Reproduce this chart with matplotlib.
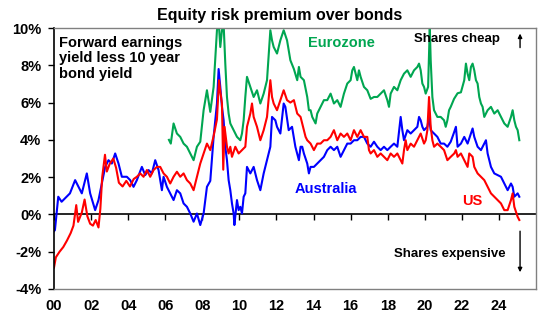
import matplotlib
matplotlib.use("Agg")
import matplotlib.pyplot as plt

plt.rcParams["font.family"] = ["Liberation Sans", "DejaVu Sans"]
plt.rcParams["font.weight"] = "bold"

# ------------ Data --------------------------------------
us_years = [2000.00, 2000.10, 2000.30, 2000.50, 2000.70, 2000.90, 2001.05, 2001.20, 2001.30, 2001.50,
            2001.65, 2001.80, 2001.95, 2002.10, 2002.25, 2002.40, 2002.50, 2002.60, 2002.75, 2002.85,
            2003.00, 2003.20, 2003.35, 2003.50, 2003.70, 2003.90, 2004.10, 2004.30, 2004.47, 2004.65,
            2004.83, 2005.01, 2005.19, 2005.37, 2005.55, 2005.73, 2005.91, 2006.09, 2006.27, 2006.45,
            2006.63, 2006.81, 2006.99, 2007.17, 2007.35, 2007.53, 2007.71, 2007.89, 2008.07, 2008.25,
            2008.43, 2008.61, 2008.79, 2008.90, 2008.97, 2009.06, 2009.13, 2009.20, 2009.33, 2009.42,
            2009.51, 2009.60, 2009.78, 2009.96, 2010.14, 2010.32, 2010.41, 2010.59, 2010.68, 2010.77,
            2010.95, 2011.13, 2011.31, 2011.49, 2011.67, 2011.76, 2011.85, 2012.03, 2012.21, 2012.39,
            2012.57, 2012.75, 2012.94, 2013.12, 2013.30, 2013.48, 2013.57, 2013.66, 2013.84, 2014.02,
            2014.20, 2014.38, 2014.56, 2014.74, 2014.92, 2015.10, 2015.28, 2015.46, 2015.64, 2015.82,
            2016.00, 2016.18, 2016.36, 2016.54, 2016.72, 2016.90, 2016.99, 2017.08, 2017.26, 2017.44,
            2017.62, 2017.80, 2017.98, 2018.16, 2018.34, 2018.52, 2018.70, 2018.79, 2018.88, 2018.97,
            2019.06, 2019.24, 2019.42, 2019.60, 2019.78, 2019.96, 2020.05, 2020.14, 2020.23, 2020.32,
            2020.41, 2020.50, 2020.68, 2020.86, 2021.04, 2021.22, 2021.40, 2021.59, 2021.68, 2021.77,
            2021.95, 2022.13, 2022.31, 2022.40, 2022.58, 2022.67, 2022.85, 2023.03, 2023.21, 2023.39,
            2023.57, 2023.75, 2023.93, 2024.11, 2024.29, 2024.47, 2024.65, 2024.74, 2024.83, 2025.01,
            2025.10]
us_erp = [-2.85, -2.30, -2.00, -1.75, -1.40, -1.00, -0.60, 0.50, -0.40, 0.10,
          0.80, -0.10, -0.50, -0.60, -0.30, -0.70, 0.30, 2.00, 3.20, 2.30,
          2.70, 3.00, 2.50, 1.70, 1.50, 1.80, 1.50, 1.90, 2.02, 2.20,
          2.02, 2.38, 2.02, 2.38, 2.55, 2.55, 2.20, 2.02, 1.66, 2.02,
          2.29, 2.02, 2.20, 1.84, 1.66, 1.30, 2.02, 2.73, 3.27, 3.80,
          3.45, 4.20, 5.10, 7.20, 6.60, 5.95, 2.40, 4.70, 3.63, 3.27,
          3.63, 3.09, 3.63, 3.27, 3.45, 3.63, 4.70, 5.41, 5.95, 5.23,
          4.70, 3.98, 4.52, 5.23, 7.20, 6.30, 5.95, 5.59, 6.13, 6.66,
          6.13, 6.00, 6.13, 5.41, 5.23, 4.52, 4.16, 3.98, 3.80, 3.45,
          3.80, 3.80, 3.98, 3.98, 4.16, 4.52, 3.98, 4.34, 4.16, 4.34,
          3.98, 4.52, 4.16, 4.52, 4.16, 4.16, 3.45, 3.27, 3.45, 3.09,
          3.27, 3.09, 2.91, 3.27, 3.09, 3.27, 2.91, 2.73, 3.45, 3.98,
          3.45, 3.80, 3.63, 3.98, 4.34, 3.80, 3.98, 4.52, 6.30, 4.70,
          3.98, 3.63, 3.80, 3.63, 3.45, 2.91, 3.09, 3.27, 3.45, 3.09,
          3.27, 2.91, 2.55, 3.27, 3.09, 2.55, 2.20, 2.02, 1.84, 1.48,
          1.13, 0.95, 0.77, 0.59, 0.23, 0.23, 0.77, 1.13, 0.41, -0.13,
          -0.30]

aus_years = [2000.00, 2000.05, 2000.23, 2000.41, 2000.59, 2000.86, 2001.14, 2001.32, 2001.50, 2001.77,
             2001.95, 2002.22, 2002.40, 2002.58, 2002.76, 2002.94, 2003.12, 2003.30, 2003.48, 2003.66,
             2003.93, 2004.11, 2004.29, 2004.47, 2004.74, 2004.92, 2005.10, 2005.28, 2005.46, 2005.64,
             2005.82, 2005.91, 2006.09, 2006.27, 2006.45, 2006.63, 2006.81, 2006.99, 2007.17, 2007.35,
             2007.53, 2007.71, 2007.89, 2008.07, 2008.25, 2008.43, 2008.61, 2008.79, 2008.88, 2008.97,
             2009.06, 2009.15, 2009.24, 2009.33, 2009.42, 2009.51, 2009.60, 2009.69, 2009.73, 2009.87,
             2009.96, 2010.05, 2010.14, 2010.23, 2010.32, 2010.41, 2010.59, 2010.77, 2010.95, 2011.13,
             2011.31, 2011.49, 2011.67, 2011.76, 2011.94, 2012.03, 2012.21, 2012.39, 2012.48, 2012.66,
             2012.84, 2013.02, 2013.21, 2013.30, 2013.39, 2013.48, 2013.66, 2013.75, 2013.84, 2014.02,
             2014.20, 2014.38, 2014.56, 2014.74, 2014.92, 2015.10, 2015.28, 2015.46, 2015.64, 2015.82,
             2016.00, 2016.18, 2016.36, 2016.54, 2016.72, 2016.90, 2017.08, 2017.26, 2017.44, 2017.62,
             2017.80, 2017.98, 2018.16, 2018.34, 2018.52, 2018.70, 2018.79, 2018.88, 2019.06, 2019.24,
             2019.42, 2019.60, 2019.69, 2019.78, 2019.87, 2019.96, 2020.14, 2020.23, 2020.32, 2020.50,
             2020.68, 2020.86, 2021.04, 2021.22, 2021.40, 2021.58, 2021.68, 2021.77, 2021.95, 2022.13,
             2022.31, 2022.49, 2022.58, 2022.67, 2022.85, 2023.03, 2023.21, 2023.30, 2023.39, 2023.57,
             2023.75, 2023.93, 2024.11, 2024.29, 2024.47, 2024.65, 2024.74, 2024.83, 2025.01, 2025.10]
aus_erp = [-0.90, -0.84, 0.95, 0.68, 0.86, 1.13, 1.84, 1.48, 1.13, 2.20,
           1.13, 0.23, 0.77, 1.66, 2.55, 2.91, 2.73, 3.27, 2.73, 2.02,
           2.02, 1.84, 1.48, 1.84, 2.55, 2.11, 2.38, 2.20, 2.91, 2.38,
           1.30, 2.02, 1.48, 1.13, 0.77, 1.30, 1.13, 0.59, 0.41, 0.05,
           -0.39, 0.05, -0.57, 0.05, 1.48, 1.80, 4.16, 5.95, 7.80, 6.84,
           5.77, 5.05, 3.63, 2.91, 1.84, 1.30, 0.59, 0.05, -0.57, 0.77,
           0.23, 0.41, 0.05, 0.95, 1.13, 2.55, 2.20, 2.55, 1.84, 1.30,
           2.20, 2.91, 3.63, 5.23, 5.05, 4.70, 4.34, 5.95, 5.77, 4.52,
           4.70, 3.63, 2.91, 3.63, 3.63, 3.27, 2.73, 2.20, 2.55, 2.55,
           2.73, 2.91, 3.09, 3.45, 3.63, 3.45, 3.63, 3.09, 3.45, 3.80,
           3.80, 3.98, 3.98, 4.16, 4.16, 3.80, 3.63, 3.90, 3.63, 3.45,
           3.63, 3.45, 3.63, 3.80, 3.63, 5.23, 4.52, 3.98, 4.52, 4.34,
           4.52, 4.70, 5.23, 5.05, 4.70, 4.52, 4.70, 5.23, 4.52, 4.34,
           4.16, 3.80, 3.80, 3.63, 3.90, 4.40, 4.70, 3.63, 3.80, 4.16,
           3.80, 4.34, 4.61, 4.16, 3.63, 3.45, 3.80, 3.98, 3.27, 2.55,
           2.20, 2.11, 2.02, 1.66, 1.30, 1.66, 1.48, 0.95, 1.13, 0.95]

ez_years = [2006.20, 2006.30, 2006.45, 2006.63, 2006.81, 2006.99, 2007.17, 2007.35, 2007.53, 2007.71,
            2007.89, 2008.07, 2008.25, 2008.43, 2008.61, 2008.79, 2008.88, 2008.97, 2009.06, 2009.15,
            2009.24, 2009.33, 2009.42, 2009.51, 2009.69, 2009.87, 2010.05, 2010.14, 2010.23, 2010.32,
            2010.41, 2010.59, 2010.77, 2010.95, 2011.13, 2011.31, 2011.49, 2011.67, 2011.76, 2011.85,
            2012.03, 2012.21, 2012.39, 2012.57, 2012.75, 2012.94, 2013.12, 2013.21, 2013.30, 2013.48,
            2013.66, 2013.75, 2013.84, 2013.93, 2014.02, 2014.11, 2014.20, 2014.38, 2014.56, 2014.74,
            2014.92, 2015.10, 2015.28, 2015.46, 2015.64, 2015.82, 2016.00, 2016.09, 2016.18, 2016.36,
            2016.45, 2016.54, 2016.72, 2016.90, 2017.08, 2017.26, 2017.44, 2017.62, 2017.80, 2017.98,
            2018.07, 2018.16, 2018.34, 2018.52, 2018.70, 2018.88, 2019.06, 2019.24, 2019.42, 2019.60,
            2019.69, 2019.78, 2019.87, 2019.96, 2020.05, 2020.18, 2020.23, 2020.27, 2020.32, 2020.41,
            2020.50, 2020.68, 2020.86, 2021.04, 2021.13, 2021.22, 2021.31, 2021.40, 2021.58, 2021.77,
            2021.95, 2022.13, 2022.22, 2022.31, 2022.40, 2022.49, 2022.58, 2022.67, 2022.76, 2022.85,
            2022.94, 2023.03, 2023.12, 2023.21, 2023.39, 2023.57, 2023.75, 2023.93, 2024.11, 2024.29,
            2024.47, 2024.65, 2024.74, 2024.83, 2024.92, 2025.01, 2025.10]
ez_erp = [4.00, 3.80, 4.88, 4.34, 4.16, 3.80, 3.63, 3.27, 2.91, 3.63,
          3.90, 5.59, 6.66, 5.50, 6.84, 9.88, 10.40, 8.98, 9.88, 10.20,
          8.09, 6.30, 5.41, 4.88, 4.52, 4.16, 3.98, 4.34, 5.05, 6.30,
          7.38, 6.84, 6.30, 6.66, 5.95, 6.48, 7.20, 9.88, 9.34, 8.98,
          8.63, 9.34, 9.88, 9.34, 8.27, 7.80, 7.20, 7.91, 7.38, 7.20,
          6.30, 5.59, 5.59, 5.23, 5.05, 4.88, 5.41, 5.77, 6.13, 6.13,
          6.48, 5.95, 6.13, 5.77, 6.48, 7.02, 7.20, 7.73, 7.91, 7.20,
          7.73, 7.38, 6.84, 6.66, 6.20, 6.30, 6.30, 6.48, 6.66, 6.13,
          5.77, 6.48, 6.84, 6.66, 7.20, 7.55, 7.73, 7.38, 7.73, 7.91,
          8.09, 7.73, 7.02, 6.84, 6.48, 6.84, 8.63, 10.05, 8.27, 6.30,
          5.59, 5.23, 5.23, 5.05, 4.70, 5.05, 5.59, 5.77, 6.20, 6.50,
          6.55, 7.20, 8.09, 7.55, 7.20, 7.91, 8.09, 7.73, 7.20, 7.02,
          6.30, 5.95, 5.77, 5.23, 5.59, 5.77, 5.41, 5.59, 5.23, 4.88,
          4.70, 5.23, 5.59, 5.05, 4.70, 4.52, 3.98]

x_ticks = list(range(2000, 2026, 2))
x_labels = ["00", "02", "04", "06", "08", "10", "12", "14", "16", "18", "20", "22", "24"]
y_ticks = [-4, -2, 0, 2, 4, 6, 8, 10]

GREEN = "#00a651"
RED = "#ff0000"
BLUE = "#0000ff"
FRAME = "#808080"

# ------------ Plot -------------
fig = plt.figure(figsize=(5.42, 3.22), dpi=100)
ax = fig.add_axes([54 / 542, 33 / 322, 482 / 542, 261 / 322])

ax.plot(ez_years, ez_erp, color=GREEN, lw=1.5)
ax.plot(aus_years, aus_erp, color=BLUE, lw=1.5)
ax.plot(us_years, us_erp, color=RED, lw=1.5)

ax.set_xlim(2000, 2026)
ax.set_ylim(-4, 10)

ax.set_yticks(y_ticks)
ax.set_yticklabels([f"{v}%" for v in y_ticks], fontsize=10.5, fontweight="bold")
ax.tick_params(axis="y", direction="out", length=4, width=1, pad=5)

ax.set_xticks(x_ticks)
ax.set_xticklabels(x_labels, fontsize=10.5, fontweight="bold")
ax.tick_params(axis="x", length=0, pad=7)

for side in ["top", "right", "bottom"]:
    ax.spines[side].set_color(FRAME)
    ax.spines[side].set_linewidth(1)
ax.spines["left"].set_color("black")
ax.spines["left"].set_linewidth(1.2)

# zero line with tick marks
zero_ax = ax.secondary_xaxis(4 / 14)
zero_ax.set_xticks(x_ticks)
zero_ax.set_xticklabels([])
zero_ax.tick_params(direction="out", length=4, width=1, color="black")
zero_ax.spines["bottom"].set_color("black")
zero_ax.spines["bottom"].set_linewidth(1.2)

# ------------ Annotations -------------
fig.text(0.515, 0.953, "Equity risk premium over bonds", ha="center", va="center",
         fontsize=11.5, fontweight="bold")

ax.text(2000.27, 9.55, "Forward earnings\nyield less 10 year\nbond yield", ha="left", va="top",
        fontsize=10.5, fontweight="bold", linespacing=1.1)
ax.text(2013.68, 9.2, "Eurozone", color=GREEN, ha="left", va="center", fontsize=10.5, fontweight="bold")
ax.text(2012.97, 1.36, "Australia", color=BLUE, ha="left", va="center", fontsize=10.5, fontweight="bold")
ax.text(2022.0, 0.72, "US", color=RED, ha="left", va="center", fontsize=10.5, fontweight="bold")
ax.text(2019.4, 9.41, "Shares cheap", ha="left", va="center", fontsize=9.5, fontweight="bold")
ax.text(2018.32, -2.12, "Shares expensive", ha="left", va="center", fontsize=9.5, fontweight="bold")

ax.annotate("", xy=(2025.14, 9.85), xytext=(2025.14, 8.8),
            arrowprops=dict(arrowstyle="-|>", color="black", lw=1, mutation_scale=6))
ax.annotate("", xy=(2025.14, -3.25), xytext=(2025.14, -0.75),
            arrowprops=dict(arrowstyle="-|>", color="black", lw=1, mutation_scale=6))

fig.savefig("out.png", dpi=100)
